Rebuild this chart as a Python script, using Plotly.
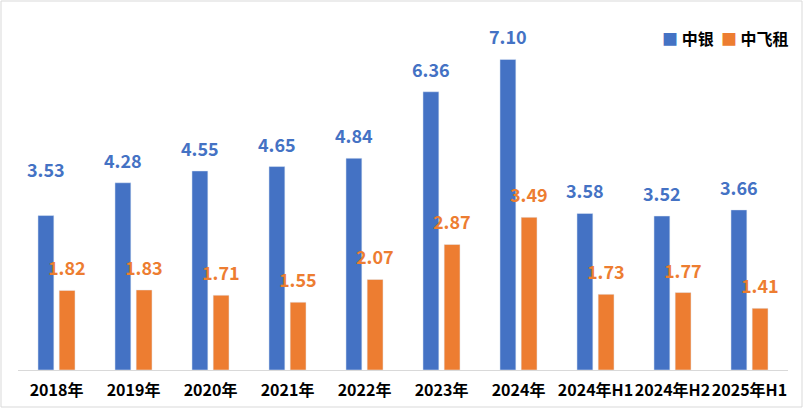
import plotly.graph_objects as go

categories = ["2018年", "2019年", "2020年", "2021年", "2022年", "2023年", "2024年", "2024年H1", "2024年H2", "2025年H1"]
boc = [3.53, 4.28, 4.55, 4.65, 4.84, 6.36, 7.10, 3.58, 3.52, 3.66]
cdb = [1.82, 1.83, 1.71, 1.55, 2.07, 2.87, 3.49, 1.73, 1.77, 1.41]
series_names = ["中银", "中飞租"]

BLUE = "#4472C4"
ORANGE = "#ED7D31"
FONT = "Noto Sans CJK SC"

W, H = 804, 409
ML, MR, MT, MB = 18, 16, 20, 39
PW = W - ML - MR
PH = H - MT - MB

fig = go.Figure()
fig.add_trace(go.Bar(x=categories, y=boc, name=series_names[0], marker_color=BLUE))
fig.add_trace(go.Bar(x=categories, y=cdb, name=series_names[1], marker_color=ORANGE))

cat_w = PW / len(categories)
bargap = 0.45
slot = cat_w * (1 - bargap) / 2
annotations = []
extra_lift = {0: 24}
for i, c in enumerate(categories):
    annotations.append(dict(x=c, y=boc[i], xref="x", yref="y", text=f"{boc[i]:.2f}",
                            showarrow=False, xshift=-slot / 2, yshift=8 + extra_lift.get(i, 0),
                            yanchor="bottom",
                            font=dict(family=FONT, size=18, color=BLUE, weight="bold")))
    annotations.append(dict(x=c, y=cdb[i], xref="x", yref="y", text=f"{cdb[i]:.2f}",
                            showarrow=False, xshift=slot / 2, yshift=8,
                            yanchor="bottom",
                            font=dict(family=FONT, size=18, color=ORANGE, weight="bold")))

# custom compact legend
legend_text = (f"<span style='color:{BLUE}'>■</span> {series_names[0]}  "
               f"<span style='color:{ORANGE}'>■</span> {series_names[1]}")
annotations.append(dict(xref="paper", yref="paper", x=(791 - ML) / PW, y=(H - MB - 38) / PH,
                        xanchor="right", yanchor="middle", showarrow=False, text=legend_text,
                        font=dict(family=FONT, size=16, color="black", weight="bold")))

fig.update_layout(
    width=W, height=H,
    margin=dict(l=ML, r=MR, t=MT, b=MB, autoexpand=False),
    paper_bgcolor="white", plot_bgcolor="white",
    barmode="group", bargap=bargap, bargroupgap=0.25,
    font=dict(family=FONT),
    showlegend=False,
    annotations=annotations,
    shapes=[dict(type="rect", xref="paper", yref="paper",
                 x0=(1 - ML) / PW, x1=(W - ML - 2) / PW,
                 y0=-(H - MT - PH - 2) / PH, y1=(PH + MT - 1) / PH,
                 line=dict(color="#D9D9D9", width=1), fillcolor="rgba(0,0,0,0)", layer="below")],
)
fig.update_xaxes(showline=True, linecolor="#D9D9D9", linewidth=1, showgrid=False,
                 ticks="outside", ticklen=6, tickcolor="rgba(0,0,0,0)",
                 tickangle=0, automargin=False,
                 tickfont=dict(family=FONT, size=16, color="black", weight="bold"))
fig.update_yaxes(range=[0, 8], visible=False, showgrid=False)

fig.write_html("out.html", config={"displayModeBar": False},
               post_script="document.body.style.margin='0px';document.body.style.overflow='hidden';")
